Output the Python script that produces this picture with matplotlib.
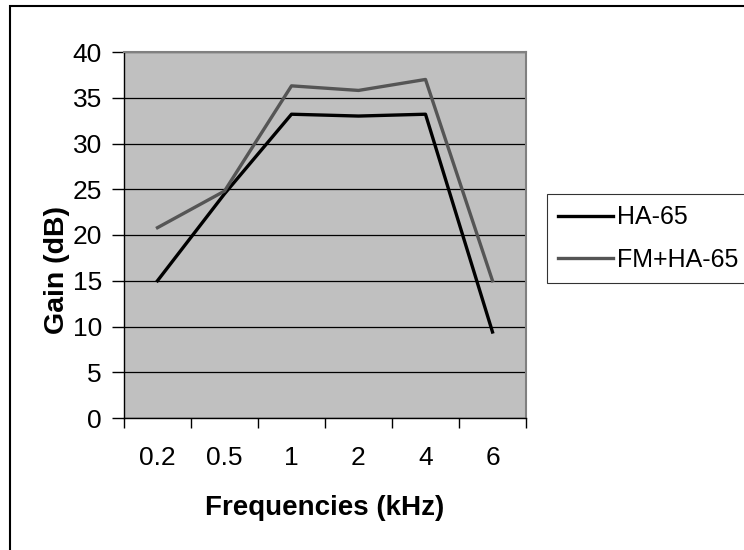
import matplotlib
matplotlib.use("Agg")
import matplotlib.pyplot as plt
from matplotlib.patches import Rectangle

plt.rcParams['font.family'] = ['Liberation Sans', 'DejaVu Sans']

freqs = ['0.2', '0.5', '1', '2', '4', '6']
ha65 = [15.0, 24.5, 33.2, 33.0, 33.2, 9.4]
fm_ha65 = [20.8, 24.8, 36.3, 35.8, 37.0, 15.0]
yticks = [0, 5, 10, 15, 20, 25, 30, 35, 40]

fig = plt.figure(figsize=(7.44, 5.5), dpi=100)
ax = fig.add_axes([124/744, 1 - 418/550, 402/744, 366/550])
ax.set_facecolor('#c0c0c0')

xs = [i + 0.5 for i in range(len(freqs))]
ax.plot(xs, ha65, color='black', lw=2.4, label='HA-65')
ax.plot(xs, fm_ha65, color='#555555', lw=2.4, label='FM+HA-65')

ax.set_xlim(0, len(freqs))
ax.set_ylim(0, 40)
ax.set_yticks(yticks)
ax.yaxis.grid(True, color='black', lw=0.9)
ax.set_axisbelow(True)
ax.set_xticks(range(len(freqs) + 1))
ax.set_xticklabels([])
ax.set_xticks(xs, minor=True)
ax.set_xticklabels(freqs, minor=True)
ax.tick_params(axis='x', which='minor', length=0, pad=20, labelsize=19)
ax.tick_params(axis='x', which='major', length=7, width=1, direction='out')
ax.tick_params(axis='y', length=9, width=1, direction='out', pad=7, labelsize=19)

for s in ['top', 'right']:
    ax.spines[s].set_color('#808080')
    ax.spines[s].set_linewidth(1.5)
for s in ['left', 'bottom']:
    ax.spines[s].set_color('black')
    ax.spines[s].set_linewidth(1)

fig.text(325/744, 1 - 508/550, 'Frequencies (kHz)', fontsize=20, fontweight='bold',
         ha='center', va='center')
fig.text(57/744, 1 - 270/550, 'Gain (dB)', fontsize=20.5, fontweight='bold',
         ha='center', va='center', rotation=90)

leg = ax.legend(loc='upper left', bbox_to_anchor=(547/744, 1 - 194/550), bbox_transform=fig.transFigure,
                frameon=True, fancybox=False, fontsize=18, handlelength=2.2, handletextpad=0.15,
                borderpad=0.45, labelspacing=0.75, borderaxespad=0)
leg.get_frame().set_edgecolor('black')
leg.get_frame().set_linewidth(0.8)

fig.add_artist(Rectangle((10/744, -0.1), 1.2, 1.1 - 6/550, transform=fig.transFigure,
                         fill=False, edgecolor='black', lw=1.5))

fig.savefig('out.png', dpi=100, facecolor='white')
